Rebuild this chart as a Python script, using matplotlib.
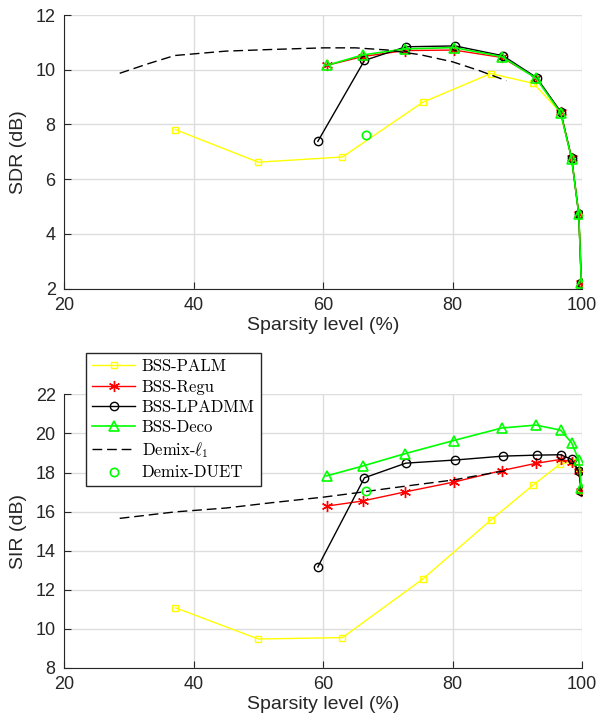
import matplotlib
matplotlib.use('Agg')
from matplotlib import pyplot as plt
import numpy as np

plt.rcParams['font.family'] = ['Liberation Sans', 'DejaVu Sans']
plt.rcParams['mathtext.fontset'] = 'cm'

# sparsity levels (%)
sp_common = [60.6, 66.1, 72.6, 80.2, 87.6, 92.9, 96.7, 98.4, 99.5, 99.9]
sp_palm = [37.2, 50.0, 63.0, 75.4, 85.9, 92.5, 96.6, 98.4, 99.5, 99.9]
sp_lpadmm = [59.2, 66.4, 72.8, 80.4, 87.8, 93.0, 96.7, 98.4, 99.5, 99.9]
sp_l1 = [28.6, 33.0, 37.1, 45.0, 52.0, 60.1, 65.0, 70.0, 75.0, 80.0, 84.0, 88.3]
sp_duet = [66.7]

# SDR (dB)
sdr_palm = [7.81, 6.62, 6.81, 8.81, 9.86, 9.50, 8.46, 6.76, 4.72, 2.20]
sdr_regu = [10.16, 10.48, 10.70, 10.72, 10.45, 9.71, 8.46, 6.76, 4.72, 2.20]
sdr_lpadmm = [7.38, 10.34, 10.84, 10.87, 10.51, 9.71, 8.46, 6.76, 4.72, 2.20]
sdr_deco = [10.16, 10.54, 10.76, 10.81, 10.48, 9.69, 8.42, 6.75, 4.72, 2.22]
sdr_l1 = [9.87, 10.22, 10.52, 10.68, 10.74, 10.80, 10.80, 10.72, 10.55, 10.29, 9.98, 9.60]
sdr_duet = [7.61]

# SIR (dB)
sir_palm = [11.07, 9.47, 9.54, 12.54, 15.56, 17.37, 18.43, 18.55, 18.07, 17.07]
sir_regu = [16.28, 16.54, 17.00, 17.51, 18.10, 18.47, 18.67, 18.55, 18.07, 17.07]
sir_lpadmm = [13.16, 17.73, 18.48, 18.64, 18.84, 18.89, 18.91, 18.67, 18.07, 17.07]
sir_deco = [17.83, 18.33, 18.96, 19.64, 20.28, 20.43, 20.17, 19.52, 18.64, 17.22]
sir_l1 = [15.65, 15.82, 15.98, 16.18, 16.45, 16.74, 16.95, 17.18, 17.40, 17.61, 17.85, 18.10]
sir_duet = [17.05]

labels = ['BSS-PALM', 'BSS-Regu', 'BSS-LPADMM', 'BSS-Deco', r'Demix-$\ell_1$', 'Demix-DUET']

fig = plt.figure(figsize=(6.0, 7.19), dpi=100)
ax1 = fig.add_axes([0.1067, 0.5987, 0.8633, 0.3804])
ax2 = fig.add_axes([0.1067, 0.0714, 0.8633, 0.3800])

# matlab style asterisk
star = (6, 2, 0)


def draw(ax, palm, regu, lpadmm, deco, l1, duet):
    ax.plot(sp_palm, palm, '-s', color='#ffff00', lw=1.0, ms=5, mfc='none', mew=1.0)
    ax.plot(sp_common, regu, '-', marker=star, color='#ff0000', lw=1.0, ms=8, mew=1.0)
    ax.plot(sp_lpadmm, lpadmm, '-o', color='black', lw=1.0, ms=6, mfc='none', mew=1.0)
    ax.plot(sp_common, deco, '-^', color='#00ff00', lw=1.2, ms=6.5, mfc='none', mew=1.2)
    ax.plot(sp_l1, l1, '--', color='black', lw=1.0, dashes=(7, 3.5))
    ax.plot(sp_duet, duet, 'o', color='#00ff00', ms=6, mfc='none', mew=1.2)
    ax.set_xlim(20, 100)
    ax.set_xticks([20, 40, 60, 80, 100])
    ax.grid(True, color='#dddddd', lw=1.0)
    ax.set_axisbelow(True)
    for s in ['top', 'right']:
        ax.spines[s].set_visible(False)
    for s in ['left', 'bottom']:
        ax.spines[s].set_color('#262626')
    ax.tick_params(direction='in', length=5, labelsize=13, colors='#262626', pad=6)
    ax.set_xlabel('Sparsity level (%)', fontsize=14, color='#262626', labelpad=2)


draw(ax1, sdr_palm, sdr_regu, sdr_lpadmm, sdr_deco, sdr_l1, sdr_duet)
ax1.set_ylim(2, 12)
ax1.set_yticks([2, 4, 6, 8, 10, 12])
ax1.set_ylabel('SDR (dB)', fontsize=14, color='#262626', labelpad=6)

draw(ax2, sir_palm, sir_regu, sir_lpadmm, sir_deco, sir_l1, sir_duet)
ax2.set_ylim(8, 22)
ax2.set_yticks([8, 10, 12, 14, 16, 18, 20, 22])
ax2.set_ylabel('SIR (dB)', fontsize=14, color='#262626', labelpad=6)

leg = ax2.legend(ax2.get_lines(), labels, loc='upper left', bbox_to_anchor=(0.0425, 1.151),
                 prop={'family': 'cmr10', 'size': 12}, frameon=True, fancybox=False,
                 edgecolor='#262626', framealpha=1, handlelength=2.6, borderpad=0.35,
                 labelspacing=0.3, handletextpad=0.4, borderaxespad=0)
leg.get_frame().set_linewidth(1.0)

fig.savefig('out.png', dpi=100)
